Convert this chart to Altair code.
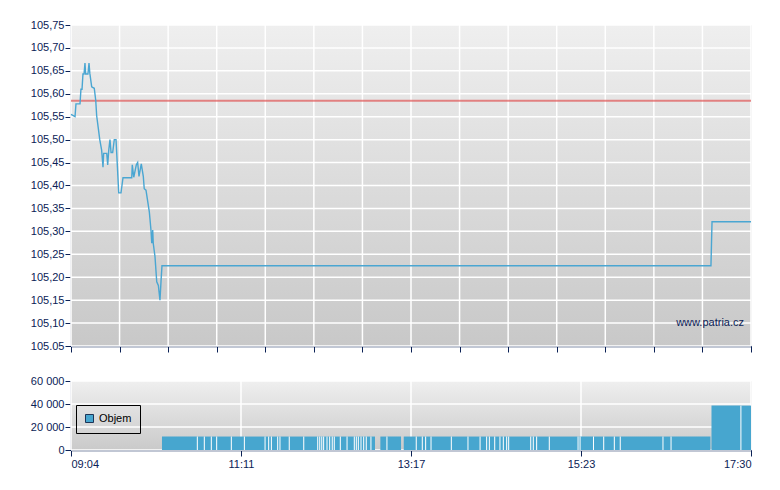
import altair as alt
import pandas as pd

# ---- data (minutes after 09:04) ----
price_minutes = [0, 3.0, 3.7, 6.7, 7.4, 8.2, 8.9, 9.7, 10.4, 10.9, 12.6, 13.4, 14.0,
                 15.4, 17.3, 18.4, 19.1, 20.3, 21.4, 22.8, 23.8, 24.3, 26.6, 27.3,
                 28.1, 29.0, 29.8, 31.0, 32.2, 33.5, 34.2, 35.5, 37.2, 38.7, 45.2,
                 45.6, 46.7, 48.6, 49.6, 50.6, 52.3, 53.8, 54.5, 55.8, 58.3, 59.5,
                 60.1, 60.8, 61.2, 62.5, 63.8, 65.0, 66.2, 67.0, 67.7, 476.2, 477.0, 506]
prices = [105.555, 105.55, 105.578, 105.578, 105.61, 105.61, 105.643, 105.643, 105.667,
          105.643, 105.643, 105.667, 105.645, 105.615, 105.612, 105.586, 105.552, 105.525,
          105.50, 105.477, 105.44, 105.47, 105.47, 105.445, 105.477, 105.50, 105.472,
          105.472, 105.50, 105.50, 105.46, 105.384, 105.384, 105.417, 105.417, 105.445,
          105.418, 105.445, 105.45, 105.42, 105.447, 105.42, 105.393, 105.39, 105.342,
          105.303, 105.274, 105.303, 105.274, 105.245, 105.19, 105.182, 105.15, 105.192,
          105.225, 105.225, 105.321, 105.321]
reference_price = 105.585

# volume blocks: consecutive boundaries of adjacent bars, with their volume
vol_groups = [
    [67.7, 94.0, 99.2, 104.4, 108.4, 119.3, 129.0, 144.4, 147.1, 149.1, 153.8, 155.5,
     162.4, 173.2, 183.6, 185.1, 186.6, 188.0, 190.5, 192.5, 194.4, 195.9, 200.4, 205.4,
     210.8, 212.3, 213.8, 215.8, 217.8, 219.7, 223.2, 226.2],
    [230.2, 235.1, 245.6],
    [247.6, 256.9, 261.4, 263.9, 267.9, 283.0, 295.4, 304.4, 309.3, 311.3, 315.3, 319.2,
     321.7, 324.2, 325.7, 342.1, 344.0, 346.5, 355.9, 377.3, 378.8, 388.8, 396.4, 404.3,
     408.7, 440.5, 446.5, 475.8],
    [476.6, 498.5, 506.0],
]
vol_group_values = [11700, 11700, 11700, 38600]

price_ticks = [105.05, 105.10, 105.15, 105.20, 105.25, 105.30, 105.35, 105.40,
               105.45, 105.50, 105.55, 105.60, 105.65, 105.70, 105.75]
price_x_grid = [round(i * 506 / 14, 3) for i in range(15)]
vol_x_ticks = [0, 126.5, 253, 379.5, 506]
vol_x_labels = ['09:04', '11:11', '13:17', '15:23', '17:30']
vol_y_ticks = [0, 20000, 40000, 60000]

# ---- build tables ----
price_df = pd.DataFrame({'t': price_minutes, 'p': prices})
rows, gaps = [], []
for g, v in zip(vol_groups, vol_group_values):
    for a, b in zip(g[:-1], g[1:]):
        rows.append({'s': a, 'e': b, 'v': v, 'series': 'Objem'})
    for b in g[1:-1]:
        gaps.append({'t': b, 'v': v})
vol_df = pd.DataFrame(rows)
gap_df = pd.DataFrame(gaps)

W, PH, VH = 680, 321, 69
navy = '#0b2256'
font = 'Liberation Sans'
one = pd.DataFrame({'a': [0]})

xs = alt.Scale(domain=[0, 506], nice=False, zero=False)
ps = alt.Scale(domain=[105.05, 105.75], nice=False, zero=False)
vs = alt.Scale(domain=[0, 60000], nice=False)

axis_common = dict(grid=False, domainColor=navy, domainWidth=1.5, tickColor=navy,
                   tickWidth=1, tickSize=6, labelColor=navy, labelFont=font,
                   labelFontSize=11, title=None)

px_axis = alt.Axis(values=price_x_grid, labels=False, **axis_common)
py_axis = alt.Axis(values=price_ticks, labelPadding=1, minExtent=62, maxExtent=62,
                   labelExpr="datum.value < 105.06 ? '105.05' : replace(format(datum.value, '.2f'), '.', ',')",
                   **axis_common)
vx_axis = alt.Axis(values=vol_x_ticks, labelPadding=2,
                   labelExpr="['09:04','11:11','13:17','15:23','17:30'][round(datum.value/126.5)]",
                   **axis_common)
vy_axis = alt.Axis(values=vol_y_ticks, labelPadding=1, minExtent=62, maxExtent=62,
                   labelExpr="replace(format(datum.value, ','), ',', ' ')",
                   **axis_common)


def grad(top, bottom):
    return alt.LinearGradient(gradient='linear',
                              stops=[alt.GradientStop(color=top, offset=0),
                                     alt.GradientStop(color=bottom, offset=1)],
                              x1=0, x2=0, y1=0, y2=1)


# ---- price panel ----
p_bg = alt.Chart(one).mark_rect(color=grad('#efefef', '#c8c8c8')).encode(
    x=alt.value(0), x2=alt.value(W), y=alt.value(0), y2=alt.value(PH))
p_hgrid = alt.Chart(pd.DataFrame({'v': price_ticks})).mark_rule(
    color='white', strokeWidth=1.5).encode(y=alt.Y('v:Q', scale=ps, axis=py_axis))
p_vgrid = alt.Chart(pd.DataFrame({'t': price_x_grid})).mark_rule(
    color='white', strokeWidth=1.5).encode(x=alt.X('t:Q', scale=xs, axis=px_axis))
p_ref = alt.Chart(pd.DataFrame({'r': [reference_price]})).mark_rule(
    color='#e05555', strokeWidth=2, opacity=0.7).encode(
    y=alt.Y('r:Q', scale=ps, axis=py_axis))
p_line = alt.Chart(price_df).mark_line(color='#4aa6d2', strokeWidth=1.4).encode(
    x=alt.X('t:Q', scale=xs, axis=px_axis),
    y=alt.Y('p:Q', scale=ps, axis=py_axis))
p_mark = alt.Chart(one).mark_text(text='www.patria.cz', align='right', baseline='middle',
                                  color=navy, font=font, fontSize=11).encode(
    x=alt.value(673), y=alt.value(298))
price = alt.layer(p_bg, p_hgrid, p_vgrid, p_ref, p_line, p_mark).properties(width=W, height=PH)

# ---- volume panel ----
v_bg = alt.Chart(one).mark_rect(color=grad('#efefef', '#cacaca')).encode(
    x=alt.value(0), x2=alt.value(W), y=alt.value(0), y2=alt.value(VH))
v_hgrid = alt.Chart(pd.DataFrame({'v': vol_y_ticks})).mark_rule(
    color='white', strokeWidth=1.5).encode(y=alt.Y('v:Q', scale=vs, axis=vy_axis))
v_vgrid = alt.Chart(pd.DataFrame({'t': vol_x_ticks})).mark_rule(
    color='white', strokeWidth=1.5).encode(x=alt.X('t:Q', scale=xs, axis=vx_axis))
v_bars = alt.Chart(vol_df).mark_rect().encode(
    x=alt.X('s:Q', scale=xs, axis=vx_axis), x2='e:Q',
    y=alt.Y('v:Q', scale=vs, axis=vy_axis), y2=alt.datum(0),
    color=alt.Color('series:N', scale=alt.Scale(range=['#47a6cf']),
                    legend=alt.Legend(title=None, orient='none', legendX=5, legendY=380,
                                      strokeColor='black', padding=8, symbolType='square',
                                      symbolSize=64, symbolStrokeColor='#1d3557',
                                      symbolStrokeWidth=1, symbolOpacity=1,
                                      labelFont=font, labelFontSize=11,
                                      labelColor='black', labelOffset=4)))
v_gaps = alt.Chart(gap_df).mark_rule(color='white', strokeWidth=1).encode(
    x=alt.X('t:Q', scale=xs, axis=vx_axis),
    y=alt.Y('v:Q', scale=vs, axis=vy_axis), y2=alt.datum(0))
volume = alt.layer(v_bg, v_hgrid, v_vgrid, v_bars, v_gaps).properties(width=W, height=VH)

chart = alt.vconcat(price, volume, spacing=35, bounds='flush').properties(
    padding={'left': 0, 'top': 10, 'right': 0, 'bottom': 0}
).configure_view(stroke=None).configure(background='white')

chart.save('out.html', embed_options={'renderer': 'svg', 'actions': False})
